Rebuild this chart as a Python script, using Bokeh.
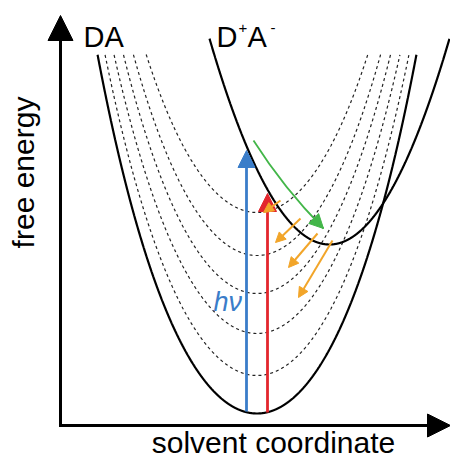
import numpy as np
from bokeh.plotting import figure
from bokeh.models import Range1d, Arrow, NormalHead
from bokeh.core.properties import value
from bokeh.embed import file_html
from bokeh.resources import INLINE

# ---- chart values (solvent coordinate q, free energy E; arbitrary units) ----
curve_names = ["DA", "D+A-"]
curve_center = [1.965, 2.69]      # q at minimum
curve_minimum = [0.12, 1.81]      # E at minimum
curve_k2 = [1.17, 1.43]           # quadratic coefficient
curve_k4 = [0.095, 0.0]           # quartic coefficient
curve_top = [3.71, 3.87]          # highest E drawn
vib_offsets = [0.38, 0.80, 1.20, 1.58, 2.01]   # vibrational levels of DA

excite_q = [1.86, 2.07]           # h-nu (blue) and red excitation
excite_E0 = [0.14, 0.13]
excite_E1 = [2.75, 2.32]

green_q = [1.93, 2.234, 2.63]     # start, control, end
green_E = [2.85, 2.372, 1.97]

relax_q0 = [2.20, 2.40, 2.57, 2.72]
relax_E0 = [2.25, 2.07, 1.92, 1.85]
relax_q1 = [2.03, 2.15, 2.28, 2.38]
relax_E1 = [2.13, 1.83, 1.58, 1.28]

axis_q_end = 3.90
axis_E_end = 4.10

BLUE = "#3a7dc9"
RED = "#e3262d"
GREEN = "#43b649"
ORANGE = "#f2a529"
FONT = "Liberation Sans"

p = figure(width=450, height=461,
           x_range=Range1d(-0.6, 3.9), y_range=Range1d(-0.36, 4.25),
           output_backend="svg", toolbar_location=None,
           x_axis_location=None, y_axis_location=None,
           min_border=0)
p.grid.visible = False
p.outline_line_color = None
p.background_fill_color = "white"
p.border_fill_color = "white"

q = np.linspace(-0.6, 3.9, 3000)


def energy(i, qq):
    d = qq - curve_center[i]
    return curve_minimum[i] + curve_k2[i] * d ** 2 + curve_k4[i] * d ** 4


# dashed vibrational levels
for off in vib_offsets:
    e = energy(0, q) + off
    m = e <= curve_top[0]
    p.line(q[m], e[m], line_color="#222222", line_width=1.2, line_dash="3 3")

# solid curves
for i in range(2):
    e = energy(i, q)
    m = e <= curve_top[i]
    p.line(q[m], e[m], line_color="black", line_width=2.2)

# axes
p.add_layout(Arrow(end=NormalHead(size=25, fill_color="black", line_color="black"),
                   x_start=0, y_start=0, x_end=0, y_end=axis_E_end,
                   line_width=3, line_color="black", line_cap="square"))
p.add_layout(Arrow(end=NormalHead(size=23, fill_color="black", line_color="black"),
                   x_start=0, y_start=0, x_end=axis_q_end, y_end=0,
                   line_width=3, line_color="black", line_cap="square"))

# excitation arrows
for qq, e0, e1, c, s in zip(excite_q, excite_E0, excite_E1, [BLUE, RED], [17, 18]):
    p.add_layout(Arrow(end=NormalHead(size=s, fill_color=c, line_color=c),
                       x_start=qq, y_start=e0, x_end=qq, y_end=e1,
                       line_width=2.8, line_color=c))

# green curved arrow
p.quadratic(x0=[green_q[0]], y0=[green_E[0]], x1=[green_q[2]], y1=[green_E[2]],
            cx=[green_q[1]], cy=[green_E[1]], line_color=GREEN, line_width=1.8)
tq = green_q[2] - green_q[1]
tE = green_E[2] - green_E[1]
p.add_layout(Arrow(end=NormalHead(size=14, fill_color=GREEN, line_color=GREEN),
                   x_start=green_q[2] - 0.2 * tq, y_start=green_E[2] - 0.2 * tE,
                   x_end=green_q[2], y_end=green_E[2], line_alpha=0))

# orange relaxation arrows
for a, b, c, d in zip(relax_q0, relax_E0, relax_q1, relax_E1):
    p.add_layout(Arrow(end=NormalHead(size=10, fill_color=ORANGE, line_color=ORANGE),
                       x_start=a, y_start=b, x_end=c, y_end=d,
                       line_width=2, line_color=ORANGE))

# texts
p.text(x=[0.23], y=[3.885], text=["DA"], text_font=value(FONT),
       text_font_size=value("29px"), text_baseline="alphabetic", text_align="left")
p.text(x=[1.56, 1.87], y=[3.885, 3.885], text=["D", "A"], text_font=value(FONT),
       text_font_size=value("29px"), text_baseline="alphabetic", text_align="left")
p.text(x=[1.78, 2.10], y=[3.975, 3.975], text=["+", "-"], text_font=value(FONT),
       text_font_size=value("15px"), text_baseline="alphabetic", text_align="left")
p.text(x=[-0.37], y=[2.53], text=["free energy"], angle=np.pi / 2,
       text_font=value(FONT), text_font_size=value("30px"),
       text_baseline="alphabetic", text_align="center")
p.text(x=[2.13], y=[-0.17], text=["solvent coordinate"], text_font=value(FONT),
       text_font_size=value("30px"), text_baseline="alphabetic", text_align="center")
p.text(x=[1.53], y=[1.235], text=["hν"], text_font=value(FONT),
       text_font_style="italic", text_color=BLUE,
       text_font_size=value("27px"), text_baseline="alphabetic", text_align="left")

open("out.html", "w").write(file_html(p, INLINE))
